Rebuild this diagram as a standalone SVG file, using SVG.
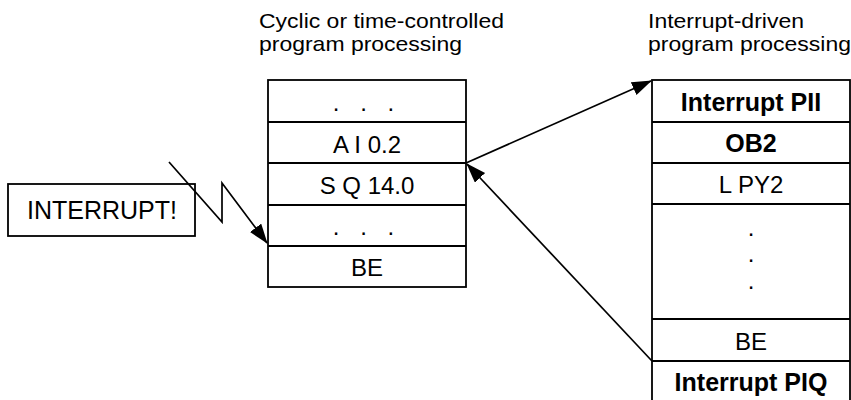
<svg xmlns="http://www.w3.org/2000/svg" width="851" height="400" viewBox="0 0 851 400">
<defs>
<style>
.box{fill:#fff;stroke:#000;stroke-width:1.8}
.ln{stroke:#000;stroke-width:1.8;fill:none}
.t{font-family:"Liberation Sans",Arial,sans-serif;font-size:24px;fill:#000;text-anchor:middle}
.b{font-weight:bold;font-size:25px}
.h{font-family:"Liberation Sans",Arial,sans-serif;font-size:21px;fill:#000}
.c{stroke:#000;stroke-width:1.7;fill:none;marker-end:url(#ah)}
</style>
<marker id="ah" markerUnits="userSpaceOnUse" markerWidth="22" markerHeight="16" refX="19" refY="7" orient="auto">
<path d="M0,0 L20,7 L0,14 Z" fill="#000"/>
</marker>
</defs>
<rect width="851" height="400" fill="#fff"/>
<g id="header-left"><text class="h" x="259" y="28" textLength="245" lengthAdjust="spacingAndGlyphs">Cyclic or time-controlled</text><text class="h" x="259" y="51" textLength="203" lengthAdjust="spacingAndGlyphs">program processing</text></g>
<g id="header-right"><text class="h" x="648" y="28" textLength="156" lengthAdjust="spacingAndGlyphs">Interrupt-driven</text><text class="h" x="648" y="51" textLength="203" lengthAdjust="spacingAndGlyphs">program processing</text></g>
<g id="interrupt"><rect class="box" x="8" y="184" width="187" height="52"/><text class="t" x="102" y="219" style="font-size:25px">INTERRUPT!</text></g>
<g id="cyclic">
<rect class="box" x="268" y="80" width="198" height="207"/>
<line class="ln" x1="268" y1="122" x2="466" y2="122"/>
<line class="ln" x1="268" y1="163" x2="466" y2="163"/>
<line class="ln" x1="268" y1="205" x2="466" y2="205"/>
<line class="ln" x1="268" y1="246" x2="466" y2="246"/>
<text class="t" x="367" y="111" style="letter-spacing:7px">. . .</text>
<text class="t" x="367" y="153">A I 0.2</text>
<text class="t" x="367" y="194">S Q 14.0</text>
<text class="t" x="367" y="235" style="letter-spacing:7px">. . .</text>
<text class="t" x="367" y="276">BE</text>
</g>
<g id="interrupt-driven">
<rect class="box" x="652" y="80" width="198" height="340"/>
<line class="ln" x1="652" y1="122" x2="850" y2="122"/>
<line class="ln" x1="652" y1="163" x2="850" y2="163"/>
<line class="ln" x1="652" y1="204" x2="850" y2="204"/>
<line class="ln" x1="652" y1="319" x2="850" y2="319"/>
<line class="ln" x1="652" y1="361" x2="850" y2="361"/>
<text class="t b" x="751" y="111">Interrupt PII</text>
<text class="t b" x="751" y="152">OB2</text>
<text class="t" x="751" y="193">L PY2</text>
<text class="t" x="751" y="236">.</text>
<text class="t" x="751" y="262">.</text>
<text class="t" x="751" y="289">.</text>
<text class="t" x="751" y="350">BE</text>
<text class="t b" x="751" y="391">Interrupt PIQ</text>
</g>
<g id="connectors">
<polyline class="c" points="169,162 222,222 222,183 267,243"/>
<line class="c" x1="466" y1="163" x2="651" y2="81"/>
<line class="c" x1="652" y1="361" x2="467" y2="164"/>
</g>
</svg>
